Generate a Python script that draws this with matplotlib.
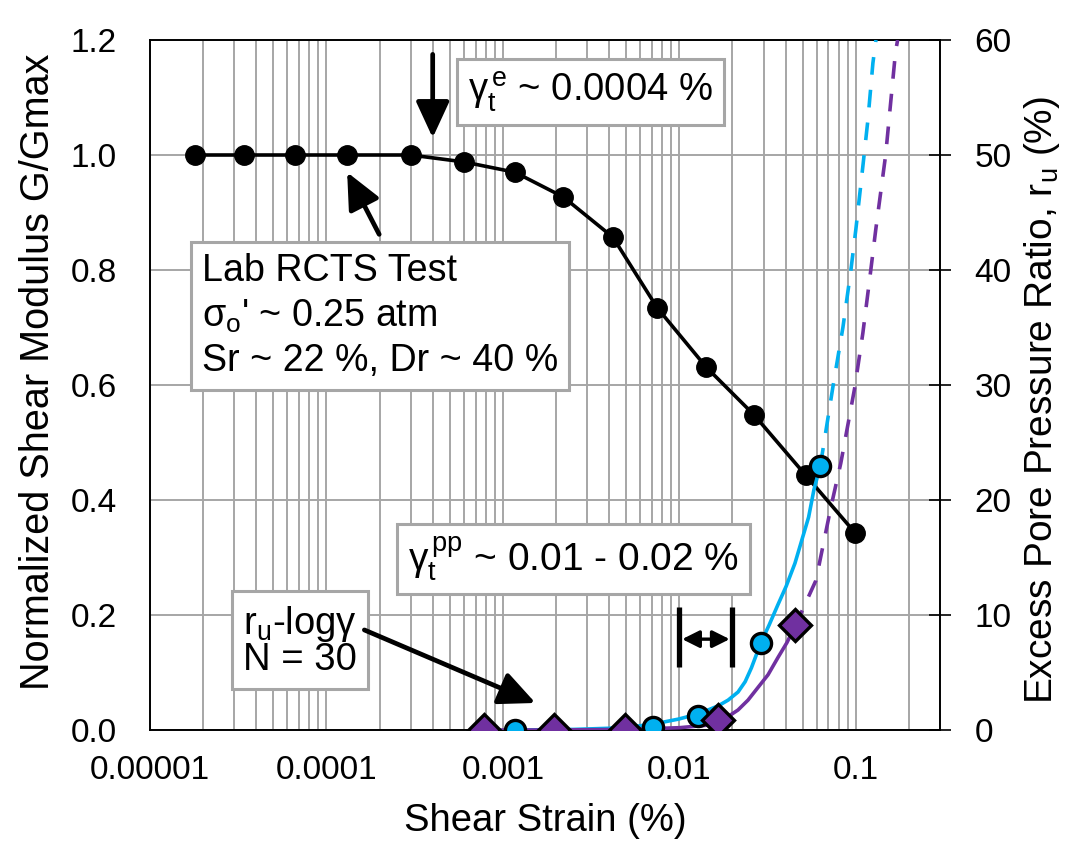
import matplotlib
matplotlib.use('Agg')
import matplotlib.pyplot as plt
import numpy as np
from matplotlib.ticker import LogLocator, NullFormatter, FormatStrFormatter, FixedLocator

plt.rcParams['font.family'] = ['Liberation Sans', 'DejaVu Sans']
plt.rcParams['mathtext.fontset'] = 'custom'
plt.rcParams['mathtext.rm'] = 'Liberation Sans'
plt.rcParams['mathtext.it'] = 'Liberation Sans:italic'
plt.rcParams['mathtext.bf'] = 'Liberation Sans:bold'

# ---------------- data ----------------
# G/Gmax from lab RCTS test
strain_G = [1.8e-5, 3.4e-5, 6.6e-5, 1.3e-4, 3.0e-4, 6.0e-4, 1.17e-3, 2.2e-3,
            4.2e-3, 7.5e-3, 1.42e-2, 2.65e-2, 5.2e-2, 9.9e-2]
G_ratio = [1.0, 1.0, 1.0, 1.0, 1.0, 0.988, 0.970, 0.927,
           0.857, 0.734, 0.631, 0.548, 0.443, 0.343]

# excess pore pressure ratio, test 1 (cyan circles)
strain_ru1 = [1.17e-3, 7.1e-3, 1.28e-2, 2.9e-2, 6.3e-2]
ru1 = [0.0, 0.3, 1.2, 7.6, 23.0]
# fitted curve (solid) and extrapolation (dashed)
fit1_strain = [1.2e-3, 2.5e-3, 4.0e-3, 5.9e-3, 7.6e-3, 9.9e-3, 1.28e-2, 1.66e-2, 1.89e-2,
               2.15e-2, 2.36e-2, 2.56e-2, 2.9e-2, 3.22e-2, 3.62e-2, 4.03e-2, 4.52e-2,
               5.4e-2, 5.79e-2, 6.3e-2]
fit1_ru = [0.0, 0.05, 0.15, 0.35, 0.6, 0.95, 1.4, 2.1, 2.6,
           3.3, 4.2, 5.4, 7.6, 9.1, 10.9, 12.5, 14.5,
           18.5, 20.9, 23.0]
ext1_strain = [6.3e-2, 7.41e-2, 8.45e-2, 9.38e-2, 0.100, 0.1096, 0.117, 0.125, 0.130]
ext1_ru = [23.0, 29.8, 35.0, 40.0, 43.5, 49.0, 53.0, 58.0, 60.0]

# excess pore pressure ratio, test 2 (purple diamonds)
strain_ru2 = [7.8e-4, 1.94e-3, 4.95e-3, 1.66e-2, 4.5e-2]
ru2 = [0.0, 0.0, 0.0, 0.9, 9.1]
fit2_strain = [7.8e-4, 2.0e-3, 5.0e-3, 1.0e-2, 1.4e-2, 1.66e-2, 2.15e-2, 2.45e-2,
               2.79e-2, 3.18e-2, 3.62e-2, 4.07e-2, 4.52e-2]
fit2_ru = [0.0, 0.0, 0.05, 0.2, 0.4, 0.6, 1.74, 2.6,
           3.7, 4.8, 6.3, 7.6, 9.0]
ext2_strain = [4.52e-2, 5.36e-2, 5.94e-2, 7.23e-2, 8.22e-2, 9.87e-2, 0.1096, 0.1216,
               0.1297, 0.1476, 0.168, 0.1726]
ext2_ru = [9.0, 11.5, 13.0, 19.4, 23.2, 29.8, 34.5, 40.0, 43.5, 50.0, 59.0, 60.0]

# threshold strains
gamma_e = 4.0e-4
gamma_pp = [0.01, 0.02]

x_ticks = [1e-5, 1e-4, 1e-3, 1e-2, 1e-1]
x_tick_labels = ['0.00001', '0.0001', '0.001', '0.01', '0.1']
yl_ticks = [0.0, 0.2, 0.4, 0.6, 0.8, 1.0, 1.2]
yr_ticks = [0, 10, 20, 30, 40, 50, 60]

CYAN = '#00B0F0'
PURPLE = '#7030A0'
GRID = '#A6A6A6'

# ---------------- figure ----------------
fig = plt.figure(figsize=(10.68, 8.44), dpi=100)
ax = fig.add_axes([150 / 1068, 1 - 730 / 844, 790 / 1068, 690 / 844])
ax.set_xscale('log')
ax.set_xlim(1e-5, 0.3)
ax.set_ylim(0, 1.2)
ax.xaxis.set_major_locator(FixedLocator(x_ticks))
ax.set_xticklabels(x_tick_labels)
ax.xaxis.set_minor_locator(LogLocator(base=10, subs=np.arange(2, 10), numticks=100))
ax.xaxis.set_minor_formatter(NullFormatter())
ax.set_yticks(yl_ticks)
ax.yaxis.set_major_formatter(FormatStrFormatter('%.1f'))
ax.grid(which='both', axis='x', color=GRID, lw=1.4)
ax.grid(which='major', axis='y', color=GRID, lw=1.4)
ax.set_axisbelow(True)
ax.tick_params(which='both', length=0, labelsize=24)
ax.tick_params(axis='y', pad=24)
ax.tick_params(axis='x', pad=18)
for s in ax.spines.values():
    s.set_linewidth(1.2)
    s.set_color('black')

ax.set_xlabel('Shear Strain (%)', fontsize=27.5, labelpad=12)
ax.set_ylabel('Normalized Shear Modulus G/Gmax', fontsize=28.5)
ax.yaxis.set_label_coords(-0.118, 0.519)

# G/Gmax curve and points
ax.plot(strain_G, G_ratio, color='black', lw=2.6, zorder=3)
ax.plot(strain_G, G_ratio, ls='none', marker='o', ms=14, mfc='black', mec='black', zorder=4)

# ---------------- annotations on left axis ----------------
box_kw = dict(boxstyle='square,pad=0.28', fc='white', ec=GRID, lw=2.2)
arrow_style = '-|>,head_length=1.3,head_width=0.6'

ax.text(0.4025, 0.925, r'$\mathregular{\gamma_t^{\,e}}$ ~ 0.0004 %', transform=ax.transAxes,
        fontsize=27.5, ha='left', va='center', bbox=box_kw, zorder=6)
ax.annotate('', xy=(gamma_e, 1.03), xytext=(gamma_e, 1.175),
            arrowprops=dict(arrowstyle=arrow_style, lw=3.4,
                            color='black', mutation_scale=17, shrinkA=0, shrinkB=0), zorder=6)

ax.text(0.0658, 0.60, 'Lab RCTS Test\n' + r'$\mathregular{\sigma_o}$' + "' ~ 0.25 atm\nSr ~ 22 %, Dr ~ 40 %",
        transform=ax.transAxes, fontsize=27.1, ha='left', va='center', linespacing=1.3,
        bbox=box_kw, zorder=6)
ax.annotate('', xy=(1.31e-4, 0.97), xytext=(1.99e-4, 0.862),
            arrowprops=dict(arrowstyle=arrow_style, lw=3.4,
                            color='black', mutation_scale=17, shrinkA=0, shrinkB=0), zorder=6)

ax.text(0.3266, 0.2478, r'$\mathregular{\gamma_t^{\,pp}}$ ~ 0.01 - 0.02 %', transform=ax.transAxes,
        fontsize=28, ha='left', va='center', bbox=box_kw, zorder=6)

ax.text(0.1177, 0.129, r'$\mathregular{r_u}$-log' + 'γ\nN = 30', transform=ax.transAxes,
        fontsize=27.5, ha='left', va='center', linespacing=0.95, bbox=box_kw, zorder=6)
ax.annotate('', xy=(1.53e-3, 0.047), xytext=(1.64e-4, 0.174),
            arrowprops=dict(arrowstyle=arrow_style, lw=3.4,
                            color='black', mutation_scale=17, shrinkA=0, shrinkB=0), zorder=6)

# threshold bracket
for g in gamma_pp:
    ax.plot([g, g], [0.110, 0.214], color='black', lw=3.8, solid_capstyle='butt', zorder=6)
ax.annotate('', xy=(gamma_pp[1], 0.158), xytext=(gamma_pp[0], 0.158),
            arrowprops=dict(arrowstyle='<|-|>,head_length=0.8,head_width=0.4', lw=2.4,
                            color='black', mutation_scale=13, shrinkA=2, shrinkB=2), zorder=6)

# ---------------- right axis: ru ----------------
ax2 = ax.twinx()
ax2.set_ylim(0, 60)
ax2.set_yticks(yr_ticks)
ax2.tick_params(axis='y', direction='inout', length=16, width=1.2, labelsize=24, pad=17)
for s in ax2.spines.values():
    s.set_linewidth(1.2)
ax2.set_ylabel(r'Excess Pore Pressure Ratio, $\mathregular{r_u}$ (%)', fontsize=28)
ax2.yaxis.set_label_coords(1.104, 0.478)

dash = (4.9, 4.2)
ax2.plot(fit1_strain, fit1_ru, color=CYAN, lw=2.6, zorder=3)
ax2.plot(ext1_strain, ext1_ru, color=CYAN, lw=2.6, dashes=dash, zorder=3)
ax2.plot(fit2_strain, fit2_ru, color=PURPLE, lw=2.6, zorder=3)
ax2.plot(ext2_strain, ext2_ru, color=PURPLE, lw=2.6, dashes=dash, zorder=3)
ax2.plot(strain_ru1, ru1, ls='none', marker='o', ms=14.5, mfc=CYAN, mec='black', mew=2.4, zorder=5)
ax2.plot(strain_ru2, ru2, ls='none', marker='D', ms=16.5, mfc=PURPLE, mec='black', mew=2.4, zorder=5)
ax2.set_xlim(1e-5, 0.3)

fig.savefig('out.png', dpi=100)
